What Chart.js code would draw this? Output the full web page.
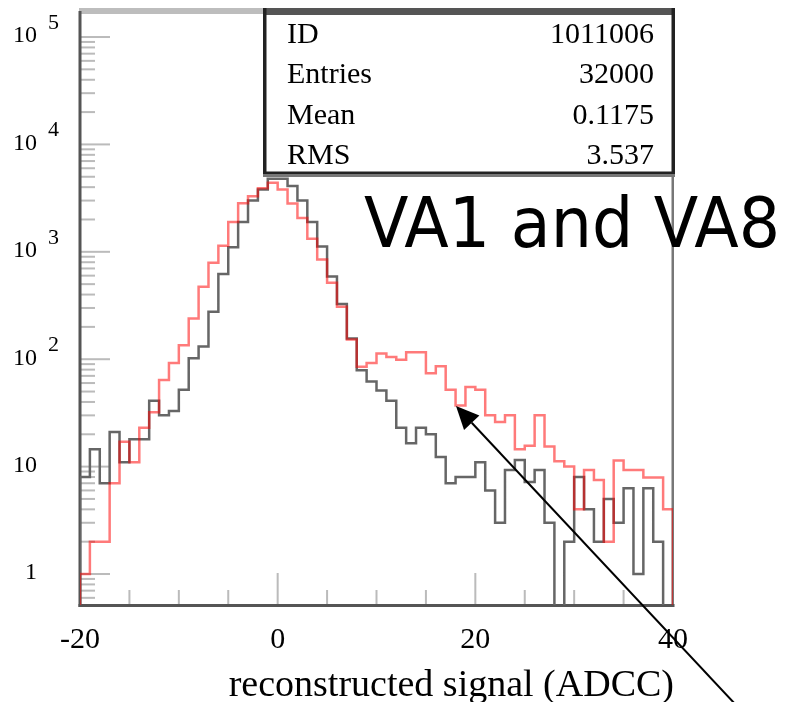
<!DOCTYPE html>
<html>
<head>
<meta charset="utf-8">
<script src="https://cdn.jsdelivr.net/npm/chart.js@4.4.1/dist/chart.umd.min.js"></script>
<style>
  html, body { margin: 0; padding: 0; background: #fff; }
  #wrap { width: 786px; height: 702px; }
</style>
</head>
<body>
<div id="wrap"><canvas id="chart" width="786" height="702"></canvas></div>
<script>
// histogram: 60 bins of width 1 from -20 to 40
const xStart = -20;
const xEnd = 40;

// VA1 and VA8 (red)
const redCounts = [
  1, 2, 2, 7, 17, 11, 23, 32, 64, 92,
  135, 240, 473, 790, 1140, 1900, 2830, 3300, 3900, 4400,
  3800, 2820, 2060, 1320, 850, 516, 308, 153, 85, 92,
  113, 105, 99, 116, 116, 74, 86, 52, 37, 55,
  52, 30, 26, 30, 14.5, 15.6, 30, 15.4, 11.2, 10,
  4, 9.3, 7.5, 2, 11.4, 9.3, 9.3, 7.9, 7.9, 4
];

// single chip (gray)
const grayCounts = [
  8, 14.5, 7, 21, 11, 18, 18, 41, 30, 33,
  52, 102, 131, 277, 620, 1100, 1900, 3000, 3800, 4800,
  4800, 4100, 3000, 1900, 1120, 590, 326, 156, 79, 62,
  51, 41, 23, 16.5, 23, 20, 12.3, 7, 8, 8,
  11, 6, 3, 9.3, 11.5, 7.2, 9.3, 3, 0, 2,
  8, 4, 2, 5, 3, 6.3, 1, 6.3, 2, 0
];

const xTickValues = [-20, 0, 20, 40];
const xMinorStep = 5;
const yTickDecades = [0.1, 1, 10, 100, 1000, 10000, 100000];
const yLabelValues = [1, 10, 100, 1000, 10000, 100000];
const yLabelBase = ['1', '10', '10', '10', '10', '10'];
const yLabelExp = ['', '', '2', '3', '4', '5'];

const statNames = ['ID', 'Entries', 'Mean', 'RMS'];
const statValues = ['1011006', '32000', '0.1175', '3.537'];
const xTitle = 'reconstructed signal (ADCC)';
const annotation = 'VA1 and VA8';

const serif = '"Liberation Serif", "Times New Roman", serif';

// step outline of a histogram, closed down to below the axis
function histPoints(counts) {
  const floor = 0.01;
  const pts = [{ x: xStart, y: floor }];
  counts.forEach((c, i) => pts.push({ x: xStart + i, y: c > 0 ? c : floor }));
  pts.push({ x: xStart + counts.length, y: counts[counts.length - 1] || floor });
  pts.push({ x: xStart + counts.length, y: floor });
  return pts;
}

const framePlugin = {
  id: 'frame',
  beforeDatasetsDraw(chart) {
    const ctx = chart.ctx;
    const a = chart.chartArea;
    const xs = chart.scales.x, ys = chart.scales.y;
    ctx.save();

    // ticks inside the frame
    ctx.fillStyle = '#bbb';
    yTickDecades.forEach(d => {
      for (let m = 1; m <= 9; m++) {
        const v = d * m;
        if (v < ys.min || v > ys.max) continue;
        const y = ys.getPixelForValue(v);
        const len = m === 1 ? 30 : 15;
        ctx.fillRect(a.left, y - 1, len, 2);
      }
    });
    for (let v = xStart; v <= xEnd; v += xMinorStep) {
      const x = xs.getPixelForValue(v);
      const len = xTickValues.includes(v) ? 32 : 15;
      ctx.fillRect(x - 1, a.bottom - len, 2, len);
    }

    // frame
    ctx.fillStyle = '#bdbdbd';
    ctx.fillRect(a.left - 1, a.top - 3, a.right - a.left + 2, 6);
    ctx.fillStyle = '#777';
    ctx.fillRect(a.right - 1.5, a.top, 2.5, a.bottom - a.top + 2);
    ctx.fillStyle = '#555';
    ctx.fillRect(a.left - 1.5, a.top, 3, a.bottom - a.top + 2);
    ctx.fillRect(a.left - 1.5, a.bottom - 1, a.right - a.left + 3, 3);
    ctx.restore();
  },
  afterDatasetsDraw(chart) {
    const ctx = chart.ctx;
    const a = chart.chartArea;
    const xs = chart.scales.x, ys = chart.scales.y;
    ctx.save();

    // statistics box
    ctx.fillStyle = '#fff';
    ctx.fillRect(263, 8, 412, 169);
    ctx.fillStyle = '#555';
    ctx.fillRect(263, 8, 412, 7);
    ctx.fillStyle = '#222';
    ctx.fillRect(263, 8, 3.5, 167);
    ctx.fillRect(671.5, 8, 3.5, 167);
    ctx.fillRect(263, 171.5, 412, 2.5);
    ctx.fillStyle = '#777';
    ctx.fillRect(263, 174, 412, 3);

    ctx.fillStyle = '#000';
    ctx.font = '30px ' + serif;
    ctx.textBaseline = 'alphabetic';
    statNames.forEach((name, i) => {
      const y = 43 + i * 40.3;
      ctx.textAlign = 'left';
      ctx.fillText(name, 287, y);
      ctx.textAlign = 'right';
      ctx.fillText(statValues[i], 654, y);
    });

    // y labels with raised exponents
    ctx.textBaseline = 'middle';
    yLabelValues.forEach((v, i) => {
      const y = ys.getPixelForValue(v);
      ctx.font = '24px ' + serif;
      ctx.textAlign = 'right';
      ctx.fillText(yLabelBase[i], 37, y - 1);
      if (yLabelExp[i]) {
        ctx.font = '22px ' + serif;
        ctx.textAlign = 'left';
        ctx.fillText(yLabelExp[i], 48, y - 14);
      }
    });

    // x labels
    ctx.font = '30px ' + serif;
    ctx.textAlign = 'center';
    xTickValues.forEach(v => {
      ctx.fillText(String(v), xs.getPixelForValue(v), 640);
    });

    // x title
    ctx.font = '38px ' + serif;
    ctx.textAlign = 'right';
    ctx.textBaseline = 'alphabetic';
    ctx.fillText(xTitle, 674, 696, 452);

    // annotation
    ctx.font = '70px "DejaVu Sans", sans-serif';
    ctx.textAlign = 'left';
    ctx.fillText(annotation, 364, 247, 416);

    // arrow
    const tip = { x: 456, y: 406 }, tail = { x: 736, y: 705 };
    const dx = tail.x - tip.x, dy = tail.y - tip.y;
    const L = Math.hypot(dx, dy), ux = dx / L, uy = dy / L;
    const hl = 23, hw = 10.5;
    ctx.strokeStyle = '#000';
    ctx.lineWidth = 2;
    ctx.beginPath();
    ctx.moveTo(tail.x, tail.y);
    ctx.lineTo(tip.x + ux * hl, tip.y + uy * hl);
    ctx.stroke();
    ctx.fillStyle = '#000';
    ctx.beginPath();
    ctx.moveTo(tip.x, tip.y);
    ctx.lineTo(tip.x + ux * hl - uy * hw, tip.y + uy * hl + ux * hw);
    ctx.lineTo(tip.x + ux * hl + uy * hw, tip.y + uy * hl - ux * hw);
    ctx.closePath();
    ctx.fill();

    ctx.restore();
  }
};

const ctx = document.getElementById('chart').getContext('2d');
const chart = new Chart(ctx, {
  type: 'line',
  data: {
    datasets: [
      {
        label: 'VA1 and VA8',
        data: histPoints(redCounts),
        borderColor: 'rgba(255, 0, 0, 0.52)',
        borderWidth: 2.5,
        stepped: true,
        pointRadius: 0,
        fill: false
      },
      {
        label: 'single',
        data: histPoints(grayCounts),
        borderColor: '#666',
        borderWidth: 2.5,
        stepped: true,
        pointRadius: 0,
        fill: false
      }
    ]
  },
  options: {
    responsive: false,
    animation: false,
    devicePixelRatio: 1,
    events: [],
    layout: { padding: { left: 80, top: 11, right: 113, bottom: 97 } },
    plugins: {
      legend: { display: false },
      tooltip: { enabled: false }
    },
    scales: {
      x: { type: 'linear', min: xStart, max: xEnd, display: false },
      y: { type: 'logarithmic', min: 0.5146, max: 174700, display: false }
    }
  },
  plugins: [framePlugin]
});
</script>
</body>
</html>
